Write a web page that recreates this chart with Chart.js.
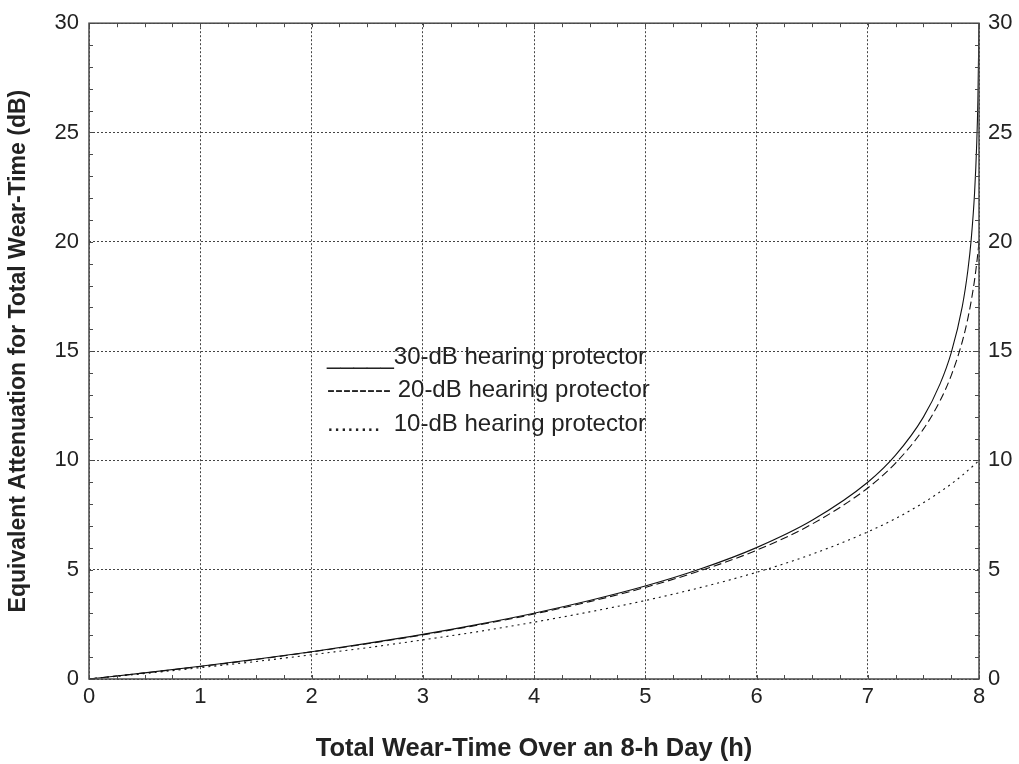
<!DOCTYPE html>
<html>
<head>
<meta charset="utf-8">
<script src="https://cdn.jsdelivr.net/npm/chart.js@4.4.1/dist/chart.umd.min.js"></script>
<style>
  html, body { margin: 0; padding: 0; background: #fff; }
  #wrap { width: 1019px; height: 764px; }
</style>
</head>
<body>
<div id="wrap"><canvas id="attenuationChart" width="1019" height="764"></canvas></div>
<script>
// values
const wearTimeHours = [0, 0.5, 1, 1.5, 2, 2.5, 3, 3.5, 4, 4.5, 5, 5.5, 6, 6.5, 7, 7.25, 7.5, 7.65, 7.75, 7.85, 7.9, 7.93, 7.96, 7.98, 7.99, 8];
const protector30dB = [0, 0.28, 0.58, 0.90, 1.25, 1.63, 2.04, 2.50, 3.01, 3.59, 4.25, 5.04, 6.01, 7.26, 9.00, 10.24, 11.98, 13.50, 14.92, 17.05, 18.70, 20.11, 22.22, 24.56, 26.48, 30];
const protector20dB = [0, 0.28, 0.57, 0.89, 1.24, 1.61, 2.02, 2.47, 2.97, 3.54, 4.19, 4.96, 5.89, 7.09, 8.74, 9.88, 11.43, 12.73, 13.88, 15.44, 16.50, 17.29, 18.25, 19.04, 19.49, 20];
const protector10dB = [0, 0.25, 0.52, 0.80, 1.11, 1.43, 1.79, 2.17, 2.60, 3.07, 3.59, 4.19, 4.88, 5.71, 6.73, 7.34, 8.06, 8.56, 8.92, 9.32, 9.54, 9.67, 9.81, 9.90, 9.95, 10];

const seriesNames = ['30-dB hearing protector', '20-dB hearing protector', '10-dB hearing protector'];
// the legend in the original is typed text: underscores, hyphens and dots
const legendLabels = ['_____30-dB hearing protector', '-------- 20-dB hearing protector', '........  10-dB hearing protector'];
const xTitle = 'Total Wear-Time Over an 8-h Day (h)';
const yTitle = 'Equivalent Attenuation for Total Wear-Time (dB)';

const legendAnchorX = 2.14;
const legendAnchorY = 14.43;

const fontFamily = '"Liberation Sans", Arial, Helvetica, sans-serif';
const textColor = '#222';

function toPoints(values) {
    return wearTimeHours.map((t, i) => ({ x: t, y: values[i] }));
}

const frameAndLegend = {
    id: 'frameAndLegend',
    afterDatasetsDraw(chart) {
        const { ctx, chartArea: a, scales: { x, y } } = chart;
        ctx.save();

        ctx.strokeStyle = '#4a4a4a';
        ctx.lineWidth = 1.5;
        ctx.strokeRect(a.left, a.top, a.right - a.left, a.bottom - a.top);

        // small inward ticks on all four sides
        ctx.lineWidth = 1;
        ctx.beginPath();
        for (let v = 0; v <= 8; v += 0.25) {
            const px = Math.round(x.getPixelForValue(v)) + 0.5;
            ctx.moveTo(px, a.bottom);
            ctx.lineTo(px, a.bottom - 4);
            ctx.moveTo(px, a.top);
            ctx.lineTo(px, a.top + 4);
        }
        for (let v = 0; v <= 30; v += 1) {
            const py = Math.round(y.getPixelForValue(v)) + 0.5;
            ctx.moveTo(a.left, py);
            ctx.lineTo(a.left + 4, py);
            ctx.moveTo(a.right, py);
            ctx.lineTo(a.right - 4, py);
        }
        ctx.stroke();

        ctx.font = '24px ' + fontFamily;
        ctx.fillStyle = textColor;
        ctx.textAlign = 'left';
        ctx.textBaseline = 'alphabetic';
        const lx = x.getPixelForValue(legendAnchorX);
        const ly = y.getPixelForValue(legendAnchorY);
        legendLabels.forEach((label, i) => {
            ctx.fillText(label, lx, ly + i * 33.5);
        });

        ctx.restore();
    }
};

const tickFont = { family: fontFamily, size: 22 };
const gridStyle = { color: '#444', lineWidth: 1, drawTicks: false };

const ctx = document.getElementById('attenuationChart').getContext('2d');
new Chart(ctx, {
    type: 'scatter',
    data: {
        datasets: [
            {
                label: seriesNames[0],
                data: toPoints(protector30dB),
                showLine: true,
                borderColor: '#111',
                borderWidth: 1.1,
                pointRadius: 0,
                cubicInterpolationMode: 'monotone'
            },
            {
                label: seriesNames[1],
                data: toPoints(protector20dB),
                showLine: true,
                borderColor: '#111',
                borderWidth: 1.1,
                borderDash: [8, 4],
                pointRadius: 0,
                cubicInterpolationMode: 'monotone'
            },
            {
                label: seriesNames[2],
                data: toPoints(protector10dB),
                showLine: true,
                borderColor: '#111',
                borderWidth: 1.1,
                borderDash: [2, 4],
                pointRadius: 0,
                cubicInterpolationMode: 'monotone'
            }
        ]
    },
    options: {
        responsive: false,
        animation: false,
        layout: { padding: { top: 20, left: 0, right: 0, bottom: 0 } },
        plugins: {
            legend: { display: false },
            tooltip: { enabled: false }
        },
        scales: {
            x: {
                type: 'linear',
                min: 0,
                max: 8,
                ticks: { stepSize: 1, font: tickFont, color: textColor, padding: 5, maxRotation: 0 },
                grid: gridStyle,
                border: { display: false, dash: [2, 2] },
                title: {
                    display: true, text: xTitle, color: textColor,
                    font: { family: fontFamily, size: 25.5, weight: 'bold', lineHeight: 1.2 },
                    padding: { top: 0, bottom: 0 }
                },
                afterFit: s => { s.height = 85; }
            },
            y: {
                type: 'linear',
                position: 'left',
                min: 0,
                max: 30,
                ticks: { stepSize: 5, font: tickFont, color: textColor, padding: 10 },
                grid: gridStyle,
                border: { display: false, dash: [2, 2] },
                title: {
                    display: true, text: yTitle, color: textColor,
                    font: { family: fontFamily, size: 23, weight: 'bold', lineHeight: 1.2 },
                    padding: { top: 5, bottom: 0 }
                },
                afterFit: s => { s.width = 89; }
            },
            y2: {
                type: 'linear',
                position: 'right',
                min: 0,
                max: 30,
                ticks: { stepSize: 5, font: tickFont, color: textColor, padding: 9 },
                grid: { display: false, drawTicks: false },
                border: { display: false },
                afterFit: s => { s.width = 40; }
            }
        }
    },
    plugins: [frameAndLegend]
});
</script>
</body>
</html>
